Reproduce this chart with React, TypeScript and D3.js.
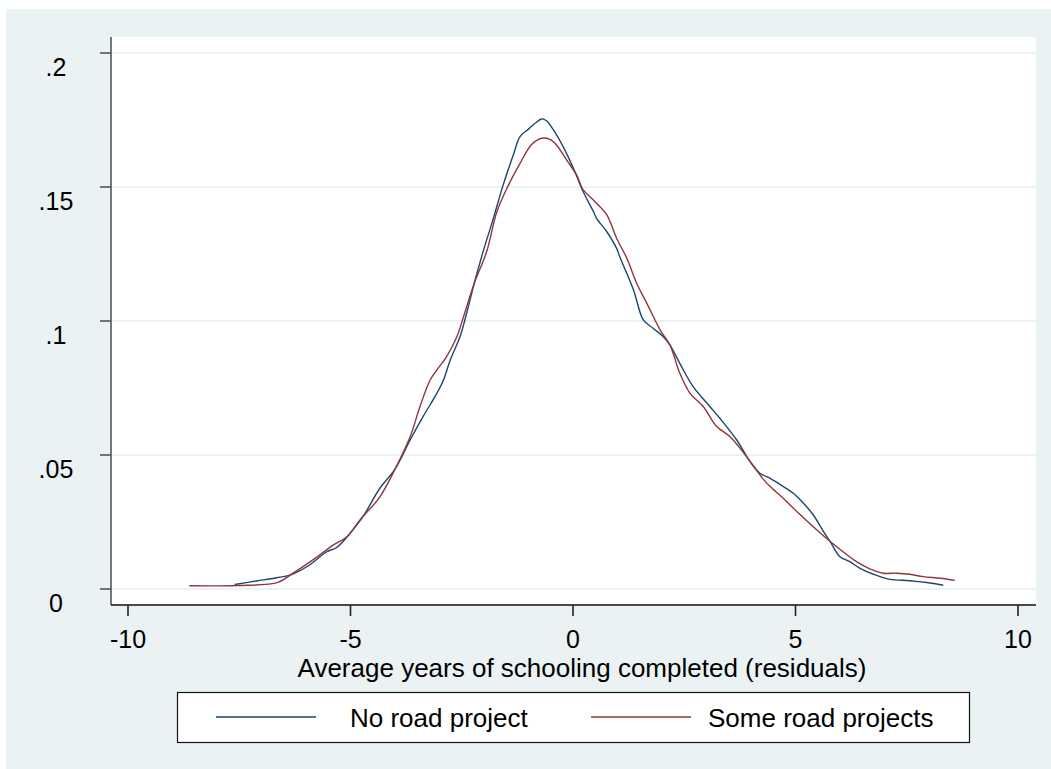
import React from "react";
import * as d3 from "d3";

// Kernel density estimates of schooling residuals, by road-project status
const noRoadX = [-7.6, -7.11, -6.66, -6.36, -5.98, -5.53, -5.31, -5.01, -4.72, -4.34, -4.0, -3.66, -3.37, -3.06, -2.91, -2.76, -2.54, -2.39, -2.24, -2.02, -1.79, -1.57, -1.34, -1.19, -1.0, -0.85, -0.7, -0.59, -0.44, -0.22, 0.01, 0.23, 0.46, 0.53, 0.76, 0.98, 1.06, 1.36, 1.58, 1.8, 2.03, 2.18, 2.4, 2.7, 3.08, 3.3, 3.68, 3.98, 4.2, 4.43, 4.73, 4.95, 5.18, 5.4, 5.63, 5.78, 6.0, 6.22, 6.45, 6.75, 7.12, 7.57, 7.95, 8.32];
const noRoadY = [0.0017, 0.003, 0.0042, 0.0052, 0.0083, 0.0139, 0.0155, 0.0208, 0.027, 0.0376, 0.0447, 0.0556, 0.0643, 0.073, 0.078, 0.0854, 0.0941, 0.1029, 0.1128, 0.1259, 0.1383, 0.1507, 0.162, 0.1688, 0.1716, 0.1738, 0.1754, 0.1746, 0.1713, 0.165, 0.157, 0.1482, 0.1408, 0.1383, 0.1333, 0.1271, 0.1236, 0.1116, 0.1004, 0.0973, 0.0941, 0.091, 0.0842, 0.0755, 0.068, 0.0637, 0.0556, 0.0475, 0.0432, 0.0413, 0.0382, 0.0357, 0.032, 0.0276, 0.0214, 0.0177, 0.012, 0.0102, 0.0077, 0.0055, 0.0036, 0.0031, 0.0024, 0.0014];

const someRoadX = [-8.62, -7.55, -6.63, -6.29, -5.75, -5.39, -5.08, -4.79, -4.34, -4.0, -3.66, -3.44, -3.21, -3.06, -2.84, -2.61, -2.46, -2.22, -1.94, -1.71, -1.45, -1.19, -0.93, -0.7, -0.52, -0.37, -0.14, 0.08, 0.23, 0.38, 0.53, 0.76, 0.98, 1.21, 1.43, 1.66, 1.96, 2.18, 2.4, 2.63, 2.93, 3.23, 3.53, 3.9, 4.28, 4.43, 4.73, 5.03, 5.4, 5.78, 6.07, 6.37, 6.67, 6.97, 7.27, 7.57, 7.87, 8.25, 8.58];
const someRoadY = [0.0012, 0.0013, 0.0025, 0.0059, 0.012, 0.0164, 0.0195, 0.0257, 0.0344, 0.0447, 0.0568, 0.068, 0.078, 0.0817, 0.0867, 0.0941, 0.1016, 0.114, 0.1259, 0.1408, 0.1507, 0.1588, 0.1659, 0.1682, 0.1678, 0.1657, 0.16, 0.1545, 0.1489, 0.1464, 0.1439, 0.1396, 0.1309, 0.1234, 0.1141, 0.1066, 0.0966, 0.091, 0.0805, 0.073, 0.068, 0.0606, 0.0568, 0.0494, 0.0409, 0.0382, 0.0338, 0.0289, 0.0232, 0.0177, 0.0139, 0.0102, 0.0075, 0.0059, 0.0059, 0.0055, 0.0046, 0.004, 0.0032];

const xTicks = [-10, -5, 0, 5, 10];
const yTicks = [0, 0.05, 0.1, 0.15, 0.2];
const yTickLabels = ["0", ".05", ".1", ".15", ".2"];
const xTitle = "Average years of schooling completed (residuals)";
const seriesNames = ["No road project", "Some road projects"];

const W = 1051;
const H = 769;
const FONT = "'Liberation Sans', Arial, Helvetica, sans-serif";
const NAVY = "#1a476f";
const MAROON = "#90353b";
const BG = "#eaf2f3";

const plot = { left: 111, right: 1036, top: 37, bottom: 605 };

export default function App() {
  const x = d3.scaleLinear().domain([-10, 10]).range([128, 1018]);
  const y = d3.scaleLinear().domain([0, 0.2]).range([589, 53]);

  const line = d3
    .line<[number, number]>()
    .x((d) => x(d[0]))
    .y((d) => y(d[1]))
    .curve(d3.curveCatmullRom.alpha(0.5));

  const noRoad = noRoadX.map((v, i) => [v, noRoadY[i]] as [number, number]);
  const someRoad = someRoadX.map((v, i) => [v, someRoadY[i]] as [number, number]);

  const legend = { x: 177, y: 692, w: 792, h: 50 };

  return (
    <svg
      width={W}
      height={H}
      style={{ position: "absolute", left: 0, top: 0, display: "block" }}
      fontFamily={FONT}
    >
      <rect x={0} y={0} width={W} height={H} fill="#ffffff" />
      <rect x={6} y={9} width={W - 6} height={H - 9} fill={BG} />

      {/* plot region */}
      <rect
        x={plot.left}
        y={plot.top}
        width={plot.right - plot.left}
        height={plot.bottom - plot.top}
        fill="#ffffff"
      />

      {/* horizontal grid */}
      {yTicks.map((t) => (
        <line
          key={"g" + t}
          x1={plot.left}
          x2={plot.right}
          y1={y(t)}
          y2={y(t)}
          stroke={BG}
          strokeWidth={2}
        />
      ))}

      {/* density curves */}
      <path d={line(noRoad) ?? ""} fill="none" stroke={NAVY} strokeWidth={1.4} />
      <path d={line(someRoad) ?? ""} fill="none" stroke={MAROON} strokeWidth={1.4} />

      {/* y axis */}
      <line x1={plot.left} x2={plot.left} y1={plot.top} y2={plot.bottom} stroke="#777" strokeWidth={2} />
      {yTicks.map((t, i) => (
        <g key={"y" + t}>
          <line x1={plot.left - 11} x2={plot.left} y1={y(t)} y2={y(t)} stroke="#555" strokeWidth={1.6} />
          <text
            x={56}
            y={y(t) + 23}
            fontSize={25}
            textAnchor="middle"
            fill="#000"
          >
            {yTickLabels[i]}
          </text>
        </g>
      ))}

      {/* x axis */}
      <line x1={plot.left} x2={plot.right} y1={plot.bottom} y2={plot.bottom} stroke="#111" strokeWidth={1.5} />
      {xTicks.map((t) => (
        <g key={"x" + t}>
          <line x1={x(t)} x2={x(t)} y1={plot.bottom} y2={plot.bottom + 11} stroke="#222" strokeWidth={1.6} />
          <text x={x(t)} y={648} fontSize={25} textAnchor="middle" fill="#000">
            {t}
          </text>
        </g>
      ))}
      <text x={582} y={677} fontSize={26} textAnchor="middle" fill="#000">
        {xTitle}
      </text>

      {/* legend */}
      <rect
        x={legend.x + 0.5}
        y={legend.y + 0.5}
        width={legend.w}
        height={legend.h}
        fill="#ffffff"
        stroke="#111"
        strokeWidth={1.2}
      />
      <line x1={216} x2={316} y1={717} y2={717} stroke={NAVY} strokeWidth={1.4} />
      <text x={350} y={727} fontSize={26} fill="#000">
        {seriesNames[0]}
      </text>
      <line x1={591} x2={691} y1={717} y2={717} stroke={MAROON} strokeWidth={1.4} />
      <text x={708} y={727} fontSize={26} fill="#000">
        {seriesNames[1]}
      </text>
    </svg>
  );
}
